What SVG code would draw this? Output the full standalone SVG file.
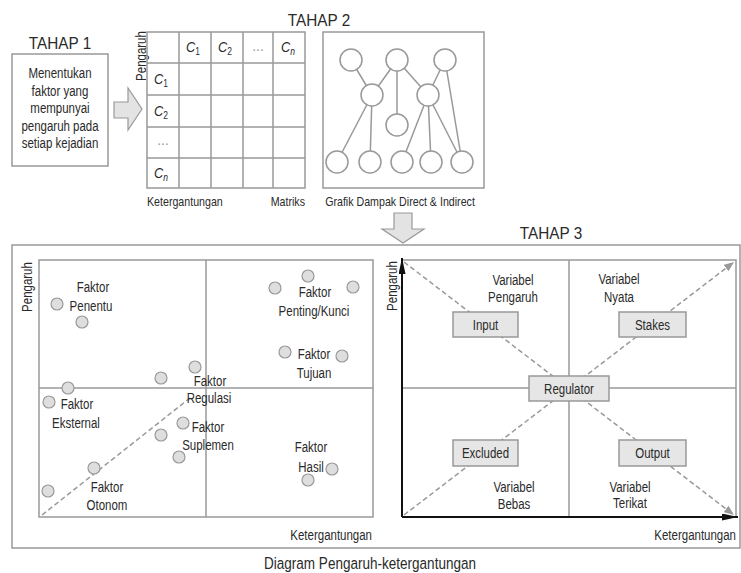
<svg xmlns="http://www.w3.org/2000/svg" width="741" height="573" viewBox="0 0 741 573">
<style>
text{font-family:"Liberation Sans",Arial,sans-serif;fill:#2a2a2a;font-size:14px;text-anchor:middle}
.h{font-size:17px}
.s{font-size:13px}
.cap{font-size:16.5px}
.e{text-anchor:end}
.b{text-anchor:start}
.ln{fill:none;stroke:#999;stroke-width:1.5}
.grid{fill:none;stroke:#999;stroke-width:1.5}
.nd{fill:#fff;stroke:#999;stroke-width:1.5}
.dot{fill:#dedede;stroke:#999;stroke-width:1.2}
.dash{fill:none;stroke:#999;stroke-width:1.5;stroke-dasharray:5 3}
.bx{fill:#e6e6e6;stroke:#999;stroke-width:1.5}
.blk{fill:none;stroke:#111;stroke-width:2}
.bar{fill:#e3e3e3;stroke:#999;stroke-width:1.2}
.c{font-size:15px;font-style:italic}
.g{fill:#999}
</style>
<defs>
<marker id="ga" viewBox="0 0 10 8" refX="10" refY="4" markerWidth="10" markerHeight="8" markerUnits="userSpaceOnUse" orient="auto"><path d="M0,0 L10,4 L0,8 Z" fill="#999"/></marker>
<marker id="ba" viewBox="0 0 16 7" refX="16" refY="3.5" markerWidth="16" markerHeight="7" markerUnits="userSpaceOnUse" orient="auto"><path d="M0,0 L16,3.5 L0,7 Z" fill="#111"/></marker>
</defs>

<g id="tahap1">
<text class="h" transform="translate(60,49) scale(.9,1)">TAHAP 1</text>
<rect class="ln" x="12" y="54" width="96" height="112"/>
<text transform="translate(60,78) scale(.82,1)">Menentukan</text>
<text transform="translate(60,95.5) scale(.82,1)">faktor yang</text>
<text transform="translate(60,113) scale(.82,1)">mempunyai</text>
<text transform="translate(60,130.5) scale(.82,1)">pengaruh pada</text>
<text transform="translate(60,148) scale(.82,1)">setiap kejadian</text>
</g>

<g id="arrow1">
<path class="bar" d="M114,102 L128,102 L128,88 L142,109 L128,130 L128,118 L114,118 Z"/>
</g>

<g id="tahap2-label"><text class="h" transform="translate(319,26) scale(.9,1)">TAHAP 2</text></g>

<g id="matriks">
<text transform="translate(141,56) rotate(-90) scale(.82,1)" dy="4.5">Pengaruh</text>
<rect class="grid" x="147" y="32" width="158" height="156"/>
<path class="grid" d="M179,32V188 M211,32V188 M243,32V188 M273,32V188 M147,63H305 M147,95H305 M147,127H305 M147,158H305"/>
<text class="c" transform="translate(193,52) scale(.85,1)">C<tspan font-size="10" font-style="normal" dy="3">1</tspan></text>
<text class="c" transform="translate(225,52) scale(.85,1)">C<tspan font-size="10" font-style="normal" dy="3">2</tspan></text>
<text class="g" x="258" y="51">...</text>
<text class="c" transform="translate(288,52) scale(.85,1)">C<tspan font-size="10" dy="3">n</tspan></text>
<text class="c" transform="translate(161,84) scale(.85,1)">C<tspan font-size="10" font-style="normal" dy="3">1</tspan></text>
<text class="c" transform="translate(161,116) scale(.85,1)">C<tspan font-size="10" font-style="normal" dy="3">2</tspan></text>
<text class="g" x="163" y="145">...</text>
<text class="c" transform="translate(161,178) scale(.85,1)">C<tspan font-size="10" dy="3">n</tspan></text>
<text class="s b" transform="translate(147,206) scale(.82,1)">Ketergantungan</text>
<text class="s e" transform="translate(305,206) scale(.82,1)">Matriks</text>
</g>

<g id="grafik">
<rect class="ln" x="323" y="32" width="161" height="156"/>
<path class="ln" d="M351,60L372,95 M397,60L372,95 M397,60L397,125 M397,60L428,95 M445,60L428,95 M445,60L462,162 M372,95L337,162 M372,95L370,162 M428,95L402,162 M428,95L431,162 M428,95L462,162"/>
<circle class="nd" cx="351" cy="60" r="11"/>
<circle class="nd" cx="397" cy="60" r="11"/>
<circle class="nd" cx="445" cy="60" r="11"/>
<circle class="nd" cx="372" cy="95" r="11"/>
<circle class="nd" cx="428" cy="95" r="11"/>
<circle class="nd" cx="397" cy="125" r="11"/>
<circle class="nd" cx="337" cy="162" r="11"/>
<circle class="nd" cx="370" cy="162" r="11"/>
<circle class="nd" cx="402" cy="162" r="11"/>
<circle class="nd" cx="431" cy="162" r="11"/>
<circle class="nd" cx="462" cy="162" r="11"/>
<text class="s" transform="translate(400,206) scale(.82,1)">Grafik Dampak Direct &amp; Indirect</text>
</g>

<g id="arrow2">
<path class="bar" d="M394,213 L412,213 L412,229 L424,229 L403,243 L382,229 L394,229 Z"/>
</g>

<g id="tahap3-label"><text class="h" transform="translate(551,239) scale(.9,1)">TAHAP 3</text></g>

<g id="panel">
<rect class="ln" x="12" y="245" width="728" height="303"/>
</g>

<g id="kuadran-kiri">
<rect class="grid" x="39" y="260" width="334" height="257"/>
<path class="grid" d="M206,260V517 M39,388H373"/>
<path class="dash" d="M42,515 L190,398"/>
<text transform="translate(27,287) rotate(-90) scale(.82,1)" dy="4.5">Pengaruh</text>
<text class="e" transform="translate(372,540) scale(.82,1)">Ketergantungan</text>
<circle class="dot" cx="57" cy="304" r="6"/>
<circle class="dot" cx="82" cy="322" r="6"/>
<circle class="dot" cx="161" cy="378" r="6"/>
<circle class="dot" cx="195" cy="367" r="6"/>
<circle class="dot" cx="68" cy="388" r="6"/>
<circle class="dot" cx="49" cy="402" r="6"/>
<circle class="dot" cx="161" cy="435" r="6"/>
<circle class="dot" cx="183" cy="423" r="6"/>
<circle class="dot" cx="179" cy="457" r="6"/>
<circle class="dot" cx="94" cy="468" r="6"/>
<circle class="dot" cx="48" cy="491" r="6"/>
<circle class="dot" cx="308" cy="276" r="6"/>
<circle class="dot" cx="275" cy="288" r="6"/>
<circle class="dot" cx="353" cy="287" r="6"/>
<circle class="dot" cx="285" cy="352" r="6"/>
<circle class="dot" cx="342" cy="356" r="6"/>
<circle class="dot" cx="332" cy="469" r="6"/>
<circle class="dot" cx="308" cy="480" r="6"/>
<text transform="translate(93,292) scale(.82,1)">Faktor</text>
<text transform="translate(91,311) scale(.82,1)">Penentu</text>
<text transform="translate(315,297) scale(.82,1)">Faktor</text>
<text transform="translate(314,316) scale(.82,1)">Penting/Kunci</text>
<text transform="translate(314,359) scale(.82,1)">Faktor</text>
<text transform="translate(314,378) scale(.82,1)">Tujuan</text>
<text transform="translate(210,386) scale(.82,1)">Faktor</text>
<text transform="translate(209,403) scale(.82,1)">Regulasi</text>
<text transform="translate(208,432) scale(.82,1)">Faktor</text>
<text transform="translate(208,450) scale(.82,1)">Suplemen</text>
<text transform="translate(77,409) scale(.82,1)">Faktor</text>
<text transform="translate(76,428) scale(.82,1)">Eksternal</text>
<text transform="translate(107,492) scale(.82,1)">Faktor</text>
<text transform="translate(107,510) scale(.82,1)">Otonom</text>
<text transform="translate(311,452) scale(.82,1)">Faktor</text>
<text transform="translate(311,472) scale(.82,1)">Hasil</text>
</g>

<g id="kuadran-kanan">
<path class="grid" d="M402,260H736V517 M569,260V517 M402,388H736"/>
<path class="dash" d="M404,262 L734,515" marker-end="url(#ga)"/>
<path class="dash" d="M404,515 L734,262" marker-end="url(#ga)"/>
<path class="blk" d="M402,517 L402,258" marker-end="url(#ba)"/>
<path class="blk" d="M402,517 L738,517" marker-end="url(#ba)"/>
<text transform="translate(392,286) rotate(-90) scale(.82,1)" dy="4.5">Pengaruh</text>
<text class="e" transform="translate(736,540) scale(.82,1)">Ketergantungan</text>
<text transform="translate(513,285) scale(.82,1)">Variabel</text>
<text transform="translate(513,302) scale(.82,1)">Pengaruh</text>
<text transform="translate(619,284) scale(.82,1)">Variabel</text>
<text transform="translate(619,302) scale(.82,1)">Nyata</text>
<text transform="translate(514,492) scale(.82,1)">Variabel</text>
<text transform="translate(514,509) scale(.82,1)">Bebas</text>
<text transform="translate(630,492) scale(.82,1)">Variabel</text>
<text transform="translate(630,508) scale(.82,1)">Terikat</text>
</g>

<g id="input"><rect class="bx" x="453" y="312" width="65" height="25"/><text transform="translate(485.5,329.5) scale(.82,1)">Input</text></g>
<g id="stakes"><rect class="bx" x="619" y="312" width="67" height="25"/><text transform="translate(652.5,329.5) scale(.82,1)">Stakes</text></g>
<g id="regulator"><rect class="bx" x="529" y="376" width="80" height="25"/><text transform="translate(569,393.5) scale(.82,1)">Regulator</text></g>
<g id="excluded"><rect class="bx" x="453" y="440" width="65" height="26"/><text transform="translate(485.5,458) scale(.82,1)">Excluded</text></g>
<g id="output"><rect class="bx" x="619" y="440" width="67" height="26"/><text transform="translate(652.5,458) scale(.82,1)">Output</text></g>

<g id="judul"><text class="cap" transform="translate(370,569) scale(.82,1)">Diagram Pengaruh-ketergantungan</text></g>
</svg>
